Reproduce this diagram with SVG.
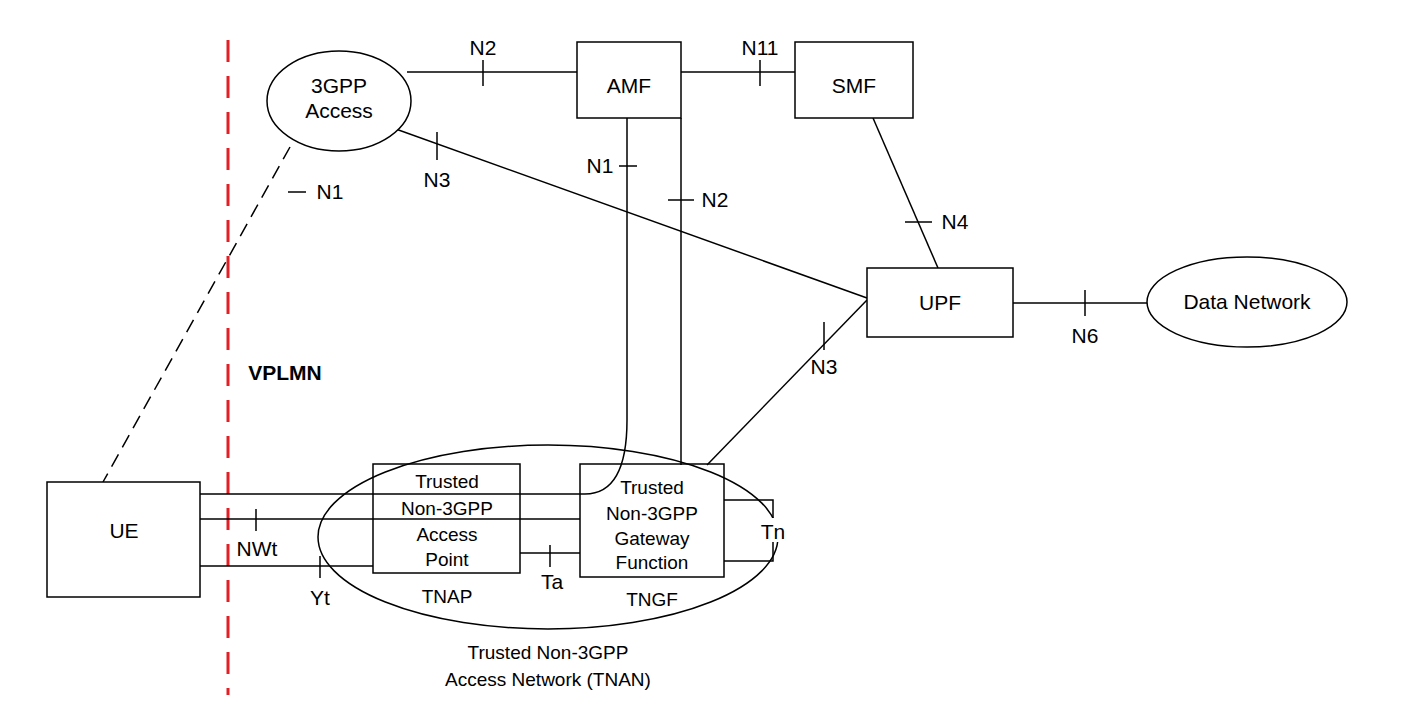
<svg xmlns="http://www.w3.org/2000/svg" width="1402" height="709" viewBox="0 0 1402 709">
<style>
.s{fill:none;stroke:#000;stroke-width:1.5}
.b{fill:#fff;stroke:#000;stroke-width:1.5}
text{font-family:"Liberation Sans",Arial,sans-serif;font-size:19px;fill:#000;text-anchor:middle}
.m{font-size:21px}
</style>
<rect width="1402" height="709" fill="#fff"/>
<line x1="228" y1="40" x2="228" y2="695" stroke="#e31e24" stroke-width="3" stroke-dasharray="22,14"/>
<text x="285" y="380" style="font-weight:bold" class="m">VPLMN</text>
<g id="tnan"><ellipse class="s" cx="548" cy="537" rx="230" ry="92"/>
<text x="548" y="659">Trusted Non-3GPP</text><text x="548" y="686">Access Network (TNAN)</text></g>
<g id="connectors">
<line class="s" x1="290" y1="147" x2="103" y2="482" stroke-dasharray="14,8"/>
<line class="s" x1="288" y1="192" x2="306" y2="192"/>
<text x="330" y="199" class="m">N1</text>
<line class="s" x1="407" y1="72" x2="577" y2="72"/>
<line class="s" x1="483" y1="60" x2="483" y2="86"/>
<text x="483" y="55" class="m">N2</text>
<line class="s" x1="681" y1="72" x2="795" y2="72"/>
<line class="s" x1="760" y1="60" x2="760" y2="86"/>
<text x="760" y="55" class="m">N11</text>
<line class="s" x1="393" y1="128" x2="867" y2="298"/>
<line class="s" x1="437" y1="132" x2="437" y2="160"/>
<text x="437" y="187" class="m">N3</text>
<path class="s" d="M627,118 V420 C627,470 612,494 585,494 H200"/>
<line class="s" x1="619" y1="166" x2="637" y2="166"/>
<text x="600" y="173" class="m">N1</text>
<line class="s" x1="681" y1="118" x2="681" y2="465"/>
<line class="s" x1="668" y1="200" x2="694" y2="200"/>
<text x="715" y="207" class="m">N2</text>
<line class="s" x1="873" y1="118" x2="938" y2="268"/>
<line class="s" x1="905" y1="222" x2="932" y2="222"/>
<text x="955" y="229" class="m">N4</text>
<line class="s" x1="1013" y1="303" x2="1148" y2="303"/>
<line class="s" x1="1085" y1="290" x2="1085" y2="316"/>
<text x="1085" y="343" class="m">N6</text>
<line class="s" x1="867" y1="300" x2="707" y2="465"/>
<line class="s" x1="824" y1="322" x2="824" y2="350"/>
<text x="824" y="374" class="m">N3</text>
<line class="s" x1="200" y1="519" x2="580" y2="519"/>
<line class="s" x1="256" y1="509" x2="256" y2="531"/>
<text x="257" y="556" class="m">NWt</text>
<line class="s" x1="200" y1="566" x2="373" y2="566"/>
<line class="s" x1="320" y1="556" x2="320" y2="578"/>
<text x="320" y="605" class="m">Yt</text>
<line class="s" x1="520" y1="553" x2="580" y2="553"/>
<line class="s" x1="550" y1="545" x2="550" y2="567"/>
<text x="552" y="589" class="m">Ta</text>
<polyline class="s" points="724,500 773,500 773,561 724,561"/>
<rect x="762" y="518" width="24" height="24" fill="#fff"/>
<text x="773" y="539" class="m">Tn</text>
</g>
<g id="3gpp"><ellipse class="b" cx="339" cy="101" rx="72" ry="50"/>
<text x="339" y="93" class="m">3GPP</text><text x="339" y="118" class="m">Access</text></g>
<g id="amf"><rect class="b" x="577" y="42" width="104" height="76"/><text x="629" y="93" class="m">AMF</text></g>
<g id="smf"><rect class="b" x="795" y="42" width="118" height="76"/><text x="854" y="93" class="m">SMF</text></g>
<g id="upf"><rect class="b" x="867" y="268" width="146" height="69"/><text x="940" y="310" class="m">UPF</text></g>
<g id="dn"><ellipse class="b" cx="1247" cy="302" rx="100" ry="45"/><text x="1247" y="309" class="m">Data Network</text></g>
<g id="ue"><rect class="b" x="47" y="482" width="153" height="115"/><text x="124" y="538" class="m">UE</text></g>
<g id="tnap"><rect class="s" x="373" y="464" width="147" height="109"/>
<text x="447" y="488">Trusted</text><text x="447" y="515">Non-3GPP</text><text x="447" y="541">Access</text><text x="447" y="566">Point</text>
<text x="447" y="603">TNAP</text></g>
<g id="tngf"><rect class="s" x="580" y="464" width="144" height="113"/>
<text x="652" y="494">Trusted</text><text x="652" y="520">Non-3GPP</text><text x="652" y="545">Gateway</text><text x="652" y="569">Function</text>
<text x="652" y="606">TNGF</text></g>
</svg>
